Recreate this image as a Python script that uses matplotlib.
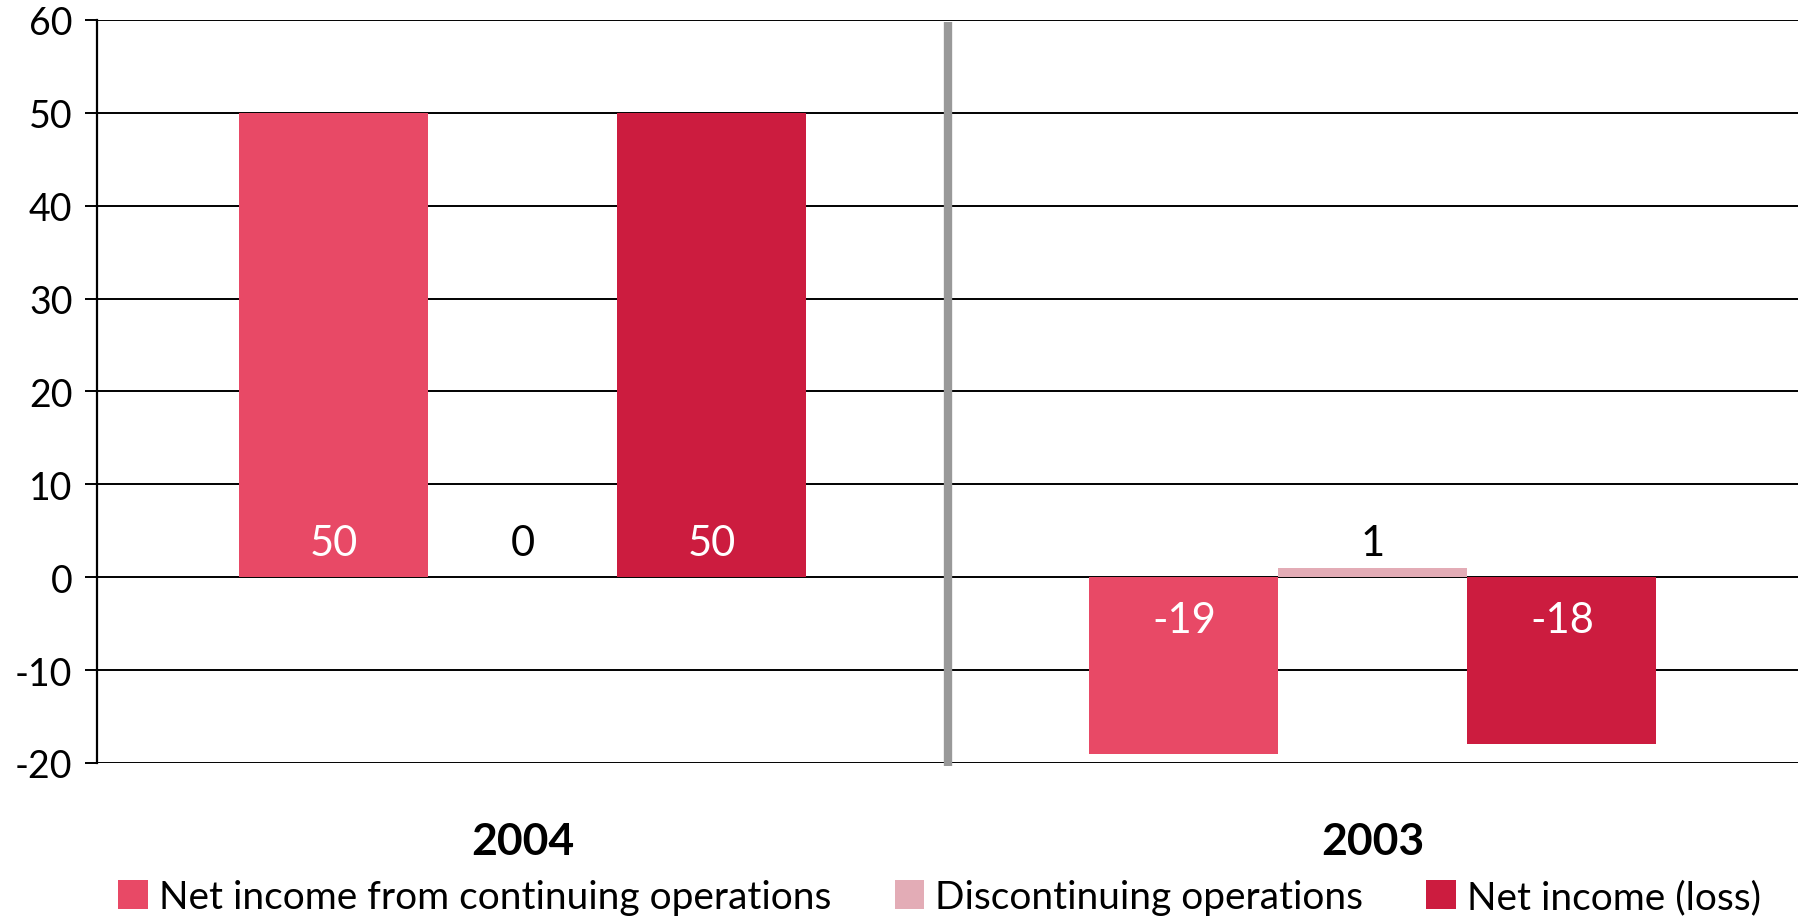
import numpy as np
import matplotlib.pyplot as plt

plt.rcParams['font.family'] = ['Lato', 'DejaVu Sans']
plt.rcParams['axes.unicode_minus'] = False

years = ['2004', '2003']
series_names = ['Net income from continuing operations', 'Discontinuing operations', 'Net income (loss)']
continuing = [50, -19]
discontinued = [0, 1]
net_income = [50, -18]
colors = ['#E84966', '#E3ACB6', '#CC1C3F']
label_colors = ['white', 'black', 'white']

fig = plt.figure(figsize=(17.98, 9.2), dpi=100)
ax = fig.add_axes([0.0542, 0.1696, 0.9458, 0.8076])

x = np.arange(len(years))
w = 2 / 9
offsets = [-w, 0, w]
series = [continuing, discontinued, net_income]

for vals, off, col, lcol, name in zip(series, offsets, colors, label_colors, series_names):
    ax.bar(x + off, vals, width=w, color=col, label=name, zorder=3)
    for xi, v in zip(x, vals):
        ly = 3.7 if v >= 0 else -4.6
        ax.text(xi + off, ly, str(v), ha='center', va='center', fontsize=30, color=lcol, zorder=4)

ax.set_xlim(-0.5, 1.5)
ax.set_ylim(-20, 60)
ax.set_yticks(np.arange(-20, 61, 10))
ax.tick_params(axis='y', length=9, width=1.4, labelsize=27, pad=9, color='black')
ax.yaxis.grid(True, color='black', linewidth=1.4, zorder=1)
ax.set_axisbelow(True)

for s in ['top', 'right', 'bottom']:
    ax.spines[s].set_visible(False)
ax.spines['left'].set_linewidth(1.6)

ax.set_xticks(x)
ax.set_xticklabels(years, fontsize=32, fontweight='bold')
ax.tick_params(axis='x', length=0, pad=42)

# separator between the years
ax.axvline(0.5, ymin=-0.004, ymax=0.997, color='#999999', linewidth=6,
           solid_capstyle='butt', clip_on=False, zorder=2)

fig.legend(loc='center left', bbox_to_anchor=(0.055, 0.024), ncol=3, frameon=False,
           borderpad=0, fontsize=28, handlelength=0.77, handleheight=0.77,
           handletextpad=0.28, columnspacing=1.62)

fig.savefig('out.png', dpi=100)
